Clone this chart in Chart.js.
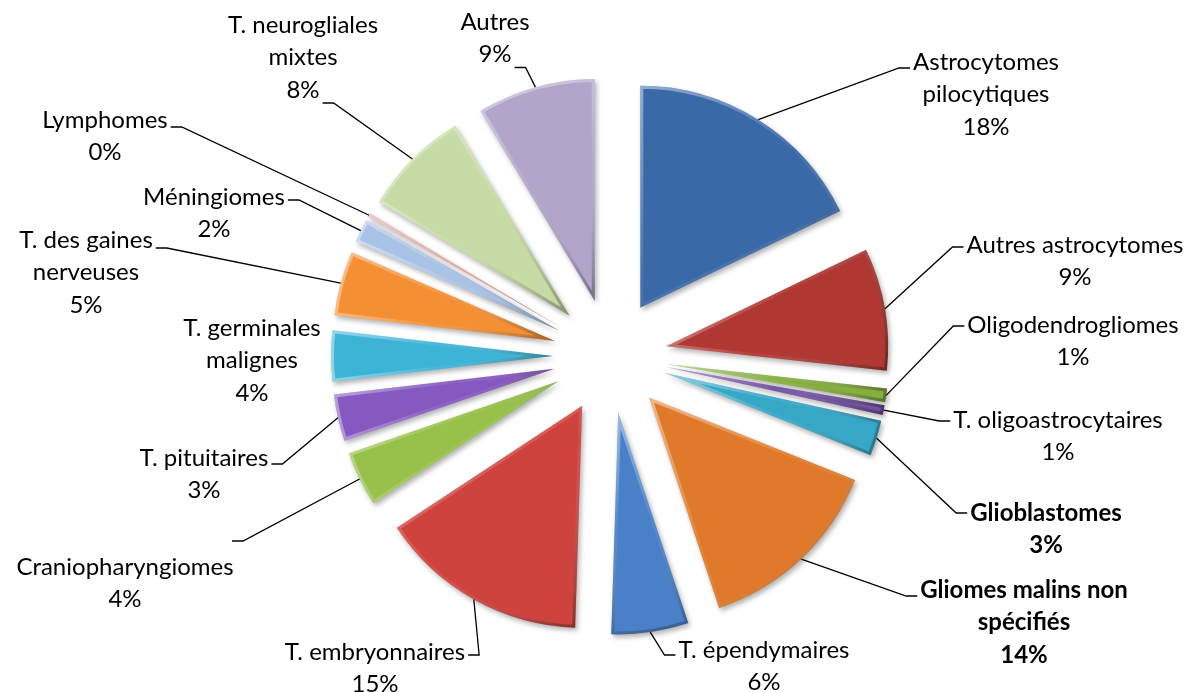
<!DOCTYPE html>
<html>
<head>
<meta charset="utf-8">
<script src="https://cdn.jsdelivr.net/npm/chart.js@4"></script>
<style>
    html, body { margin: 0; padding: 0; background: #fff; }
    #wrap { width: 1196px; height: 692px; position: relative; }
</style>
</head>
<body>
<div id="wrap"><canvas id="pieChart"></canvas></div>
<script>
// catégories (une ligne par élément de tableau)
const categories = [
    ['Astrocytomes', 'pilocytiques'],
    ['Autres astrocytomes'],
    ['Oligodendrogliomes'],
    ['T. oligoastrocytaires'],
    ['Glioblastomes'],
    ['Gliomes malins non', 'spécifiés'],
    ['T. épendymaires'],
    ['T. embryonnaires'],
    ['Craniopharyngiomes'],
    ['T. pituitaires'],
    ['T. germinales', 'malignes'],
    ['T. des gaines', 'nerveuses'],
    ['Méningiomes'],
    ['Lymphomes'],
    ['T. neurogliales', 'mixtes'],
    ['Autres']
];

// parts (%)
const parts = [17.8, 8.9, 1.0, 0.7, 2.6, 13.8, 5.6, 15.2, 4.0, 3.4, 3.7, 4.7, 1.7, 0.3, 7.8, 8.6];

const colors = [
    '#3A69A8', '#B03833', '#86AE3F', '#7150A0', '#36A7C7', '#E07A2A',
    '#4A80C8', '#CF433F', '#97C14A', '#8659C0', '#3DB3D6', '#F58F33',
    '#A9C3E6', '#D9A3A2', '#C6DBA5', '#B2A5C9'
];

// mise en page des étiquettes : centre du texte (x, y de la 1re ligne)
const labelPos = [
    [986, 62], [1075, 245], [1073, 325], [1058, 420], [1046, 513], [1024, 590],
    [764, 650], [375, 652], [125, 567], [204, 458], [252, 328], [86, 240],
    [214, 197], [105, 120], [303, 25], [495, 22]
];
// lignes de rappel : [ligne de texte, décalage vertical] ; null = pas de ligne
const leaderSpec = [
    [0, 6], [0, 2], [0, 1], [0, 1], [0, 0], [0, 6],
    [0, 5], [0, 3], null, [0, 6], null, [0, 8],
    [0, 3], [0, 7], [2, 13], [1, 13]
];
// Craniopharyngiomes : la ligne part au-dessus du texte
const leaderFixed = { 8: [232, 541] };
const boldLabels = [4, 5];

const EXPLODE = 57;
const FONT = 'Lato, "Open Sans", sans-serif';
const LINE_H = 32.5;

function arcPath(ctx, arc) {
    ctx.beginPath();
    ctx.moveTo(arc.x, arc.y);
    ctx.arc(arc.x, arc.y, arc.outerRadius, arc.startAngle, arc.endAngle);
    ctx.closePath();
}

const explodePlugin = {
    id: 'explode',
    afterDatasetUpdate(chart, args) {
        args.meta.data.forEach(arc => {
            const mid = (arc.startAngle + arc.endAngle) / 2;
            arc.x += Math.cos(mid) * EXPLODE;
            arc.y += Math.sin(mid) * EXPLODE;
        });
    },
    beforeDatasetDraw(chart) {
        const ctx = chart.ctx;
        ctx.save();
        ctx.shadowColor = 'rgba(0,0,0,0.3)';
        ctx.shadowBlur = 5;
        ctx.shadowOffsetX = 2;
        ctx.shadowOffsetY = 3;
    },
    afterDatasetDraw(chart, args) {
        const ctx = chart.ctx;
        ctx.restore();
        // effet de biseau : bord clair en haut à gauche, sombre en bas à droite
        args.meta.data.forEach(arc => {
            const R = arc.outerRadius;
            const pts = [[arc.x, arc.y],
                [arc.x + Math.cos(arc.startAngle) * R, arc.y + Math.sin(arc.startAngle) * R],
                [arc.x + Math.cos(arc.endAngle) * R, arc.y + Math.sin(arc.endAngle) * R]];
            const xs = pts.map(p => p[0]), ys = pts.map(p => p[1]);
            const g = ctx.createLinearGradient(Math.min(...xs), Math.min(...ys), Math.max(...xs), Math.max(...ys));
            g.addColorStop(0, 'rgba(255,255,255,0.45)');
            g.addColorStop(0.5, 'rgba(255,255,255,0.05)');
            g.addColorStop(1, 'rgba(0,0,0,0.35)');
            ctx.save();
            arcPath(ctx, arc);
            ctx.clip();
            arcPath(ctx, arc);
            ctx.lineWidth = 6;
            ctx.strokeStyle = g;
            ctx.lineJoin = 'round';
            ctx.stroke();
            ctx.restore();
        });
    }
};

const labelPlugin = {
    id: 'pieLabels',
    afterDraw(chart) {
        const ctx = chart.ctx;
        const arcs = chart.getDatasetMeta(0).data;
        const total = parts.reduce((a, b) => a + b, 0);
        ctx.save();
        arcs.forEach((arc, i) => {
            const pct = Math.round(parts[i] / total * 100) + '%';
            const lines = categories[i].concat([pct]);
            const [lx, ly] = labelPos[i];
            ctx.font = (boldLabels.includes(i) ? 'bold ' : '') + '24px ' + FONT;

            // ligne de rappel
            const mid = (arc.startAngle + arc.endAngle) / 2;
            const ax = arc.x + Math.cos(mid) * arc.outerRadius;
            const ay = arc.y + Math.sin(mid) * arc.outerRadius;
            let start = null;
            if (leaderFixed[i]) {
                start = leaderFixed[i];
            } else if (leaderSpec[i]) {
                const [k, dy] = leaderSpec[i];
                const w = ctx.measureText(lines[k]).width;
                const side = ax > lx ? 1 : -1;
                start = [lx + side * (w / 2 + 3), ly + k * LINE_H + dy];
            }
            if (start) {
                const [sx, sy] = start;
                const dir = ax > sx ? 1 : -1;
                ctx.beginPath();
                ctx.moveTo(sx, sy);
                ctx.lineTo(sx + dir * 11, sy);
                ctx.lineTo(ax, ay);
                ctx.strokeStyle = '#000';
                ctx.lineWidth = 1.3;
                ctx.stroke();
            }

            // texte
            ctx.fillStyle = '#000';
            ctx.textAlign = 'center';
            ctx.textBaseline = 'middle';
            lines.forEach((t, k) => ctx.fillText(t, lx, ly + k * LINE_H));
        });
        ctx.restore();
    }
};

const ctx = document.getElementById('pieChart').getContext('2d');
const pieChart = new Chart(ctx, {
    type: 'pie',
    data: {
        labels: categories,
        datasets: [{
            data: parts,
            backgroundColor: colors,
            borderWidth: 0,
            radius: 222
        }]
    },
    options: {
        responsive: true,
        maintainAspectRatio: false,
        animation: false,
        layout: {
            padding: { left: 24, top: 20, right: 0, bottom: 0 }
        },
        plugins: {
            legend: { display: false },
            tooltip: { enabled: false }
        }
    },
    plugins: [explodePlugin, labelPlugin]
});
</script>
</body>
</html>
